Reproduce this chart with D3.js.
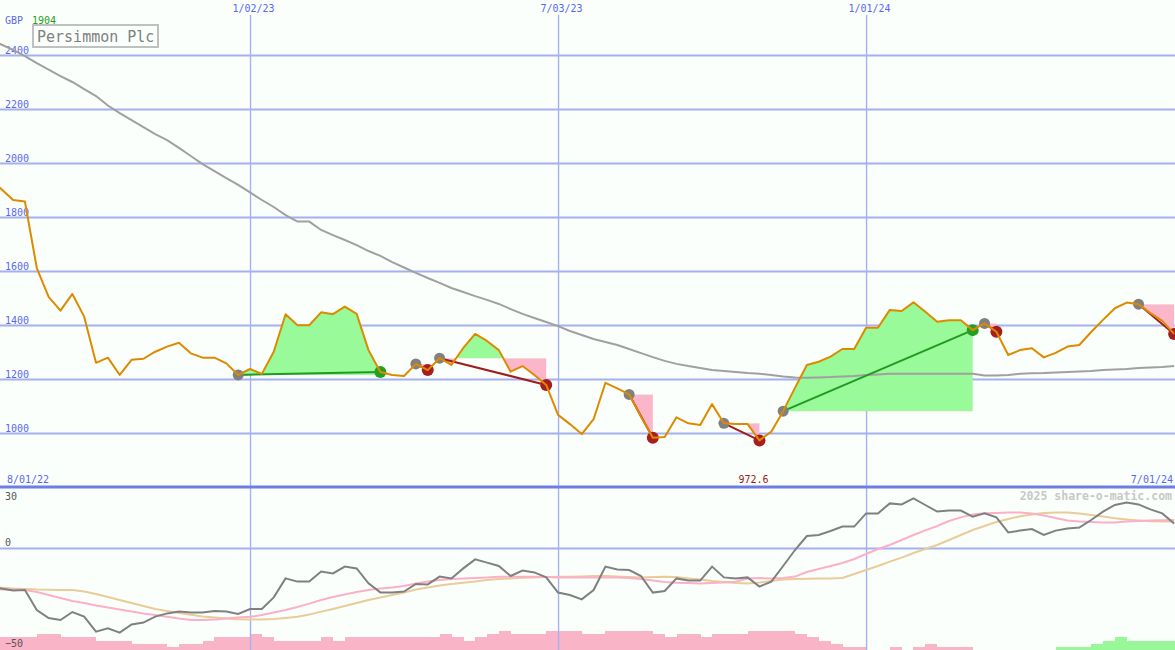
<!DOCTYPE html>
<html><head><meta charset="utf-8">
<script src="https://cdn.jsdelivr.net/npm/d3@7"></script>
<style>
html,body{margin:0;padding:0;background:#fbfffb;}
svg{display:block;}
text{font-family:"DejaVu Sans Mono","Liberation Mono",monospace;}
</style></head><body>
<svg id="c" width="1175" height="650"></svg>
<script>
// ---------- data ----------
const startDate = new Date(2022, 7, 1);   // first weekly close (8/01/22)
const endDate = new Date(2024, 6, 1);     // last weekly close (7/01/24)
const companyName = "Persimmon Plc";
const currencyLabel = "GBP";
const headlinePrice = "1904";
const priceTicks = [1000, 1200, 1400, 1600, 1800, 2000, 2200, 2400];
const oscTicks = [30, 0, -50];
const dateTickLabels = ["1/02/23", "7/03/23", "1/01/24"];
const dateTickDates = [new Date(2023, 0, 2), new Date(2023, 6, 3), new Date(2024, 0, 1)];

const priceValues = [1940, 1904, 1863, 1857, 1611, 1504, 1453, 1515, 1431, 1260,
  1279, 1215, 1271, 1275, 1301, 1320, 1334, 1295, 1279, 1279,
  1258, 1215, 1237, 1219, 1301, 1440, 1399, 1399, 1447, 1440,
  1468, 1441, 1307, 1226, 1215, 1211, 1256, 1233, 1277, 1252,
  1315, 1367, 1341, 1307, 1227, 1248, 1215, 1178, 1067, 1033,
  996, 1051, 1186, 1165, 1143, 1060, 982, 985, 1058, 1036,
  1030, 1107, 1036, 1033, 1033, 972.6, 1005, 1081, 1167, 1252,
  1264, 1283, 1311, 1311, 1390, 1390, 1456, 1452, 1484, 1449,
  1412, 1418, 1418, 1381, 1406, 1375, 1289, 1307, 1314, 1280,
  1297, 1320, 1326, 1374, 1419, 1462, 1483, 1477, 1444, 1415, 1367];

const movingAvgValues = [2459, 2439, 2419, 2396, 2370, 2346, 2322, 2300, 2274, 2248,
  2213, 2185, 2159, 2133, 2107, 2085, 2056, 2026, 1996, 1970,
  1944, 1919, 1891, 1863, 1837, 1807, 1783, 1783, 1752, 1733,
  1715, 1696, 1674, 1656, 1633, 1613, 1593, 1574, 1556, 1537,
  1522, 1507, 1493, 1478, 1459, 1441, 1426, 1411, 1396, 1378,
  1363, 1348, 1337, 1326, 1311, 1296, 1281, 1267, 1256, 1248,
  1241, 1233, 1230, 1226, 1222, 1219, 1215, 1209, 1206, 1205,
  1206, 1207, 1209, 1211, 1215, 1217, 1219, 1219, 1219, 1219,
  1219, 1219, 1219, 1219, 1213, 1213, 1215, 1219, 1221, 1222,
  1224, 1226, 1228, 1230, 1233, 1235, 1237, 1241, 1243, 1244, 1248];

const momentumValues = [-20, -20.2, -21.2, -21, -31, -35, -36, -32, -34.3, -41.8,
  -40.2, -42.3, -38.2, -37.3, -34.3, -32.7, -31.8, -32.3, -32.3, -31.5,
  -31.8, -33, -30.5, -30.5, -24.7, -15.2, -16.8, -16.8, -11.8, -12.7,
  -9.3, -10.2, -17.7, -22.2, -22.2, -21.8, -18, -18.2, -14.3, -15.2,
  -10.2, -5.7, -7.3, -9, -14, -11.3, -12.2, -14.7, -22.3, -23.5,
  -25.7, -21, -9.3, -10.7, -11, -14, -22.3, -21.5, -15.2, -16.3,
  -16.3, -9.3, -14.7, -15.2, -14.7, -19.3, -16.8, -9, -1, 6,
  6.5, 8.5, 10.7, 10.7, 17.3, 17.3, 22.3, 21.8, 24.8, 21.5,
  18.2, 18.7, 18.7, 15.7, 17.3, 15.3, 7.8, 8.7, 9.5, 6.5,
  8.7, 9.8, 10.2, 14, 18.2, 21.5, 22.7, 21.8, 19.3, 17.3, 12.3];

const fastAvgValues = [-20.5, -20.7, -20.8, -21, -22, -23.5, -25, -26.5, -27.5, -28.8,
  -29.8, -30.8, -31.8, -32.8, -33.5, -34.4, -35.3, -36, -36, -35.8,
  -35.3, -34.8, -34.4, -33.5, -32.3, -31, -29.5, -27.8, -26, -24.5,
  -23.3, -22, -21, -20.3, -19.8, -19, -17.8, -16.8, -16, -15.5,
  -15.3, -15, -14.7, -14.4, -14.4, -14.4, -14.4, -14.5, -14.7, -14.7,
  -14.7, -14.7, -14.7, -14.8, -15, -15.5, -16.3, -17, -17.4, -17.5,
  -17.7, -17.5, -17.3, -16.9, -15.3, -15, -15.3, -15, -14.3, -12,
  -10.5, -9, -7.5, -5.5, -3, -0.5, 1.5, 4, 6.5, 8.8,
  11, 13.5, 15.3, 16.8, 17.4, 17.5, 17.7, 17.7, 17.3, 16.3,
  15, 13.8, 13.3, 13, 12.8, 12.7, 13.3, 13.5, 13.8, 13.9, 14];

const slowAvgValues = [-19.8, -19.9, -20.3, -20.5, -20.8, -20.9, -21, -21, -21.8, -23,
  -24.5, -26, -27.5, -29, -30.5, -31.5, -32.5, -33.4, -34.2, -34.8,
  -35.3, -35.6, -35.7, -35.7, -35.5, -35, -34.4, -33.3, -31.8, -30.5,
  -29, -27.5, -26, -24.8, -23.5, -22.3, -20.8, -19.8, -18.8, -18,
  -17.4, -16.8, -16, -15.5, -15.3, -14.9, -14.7, -14.5, -14.4, -14.4,
  -14.2, -14, -14, -14.3, -14.5, -14.7, -14.5, -14.4, -14.5, -15.2,
  -15.8, -16.5, -17, -17.5, -17.7, -17.3, -16.5, -15.7, -15.5, -15.4,
  -15.3, -15.2, -15, -13, -11, -9, -6.8, -4.8, -2.5, -0.5,
  1.5, 4, 6.5, 9, 11, 13, 14.5, 15.9, 16.8, 17.5,
  17.7, 17.7, 17.3, 16.5, 15.8, 14.9, 14.3, 13.8, 13.4, 13.2, 13.2];

const histValues = [-4, -4, -4, -4, -5, -5, -4, -4, -4, -3,
  -3, -3, -2, -2, -2, -1, -2, -2, -3, -4,
  -4, -4, -5, -4, -3, -3, -3, -3, -4, -3,
  -4, -4, -4, -4, -4, -4, -4, -4, -5, -4,
  -3, -4, -5, -6, -5, -5, -5, -6, -6, -6,
  -5, -5, -6, -6, -6, -6, -5, -4, -5, -5,
  -4, -5, -5, -5, -6, -6, -6, -6, -5, -4,
  -3, -2, -1, -1, 0, 0, -1, 0, -1, -2,
  -1, -1, -1, 0, 0, 0, 0, 0, 0, 0,
  1, 1, 1, 2, 3, 4, 3, 3, 3, 3, 3];

const tradeEntryIdx = [21, 36, 38, 54, 62, 67, 84, 97];
const tradeExitIdx  = [33, 37, 47, 56, 65, 83, 85, 100];

// ---------- setup ----------
const W = 1175, H = 650;
const svg = d3.select("#c");
const weekDates = d3.timeMonday.range(startDate, d3.timeDay.offset(endDate, 1));
const rows = weekDates.map((d, i) => ({
  date: d, price: priceValues[i], ma: movingAvgValues[i], mom: momentumValues[i],
  fast: fastAvgValues[i], slow: slowAvgValues[i], hist: histValues[i], i
}));

const x = d3.scaleTime().domain([startDate, endDate]).range([-10.6, 1174.1]);
const y = d3.scaleLinear().domain([800, 2600]).range([487, 1]);
const yo = d3.scaleLinear().domain([-50, 30]).range([648, 488]);
const yh = d3.scaleLinear().domain([0, 6]).range([650, 631]);

svg.append("rect").attr("width", W).attr("height", H).attr("fill", "#fbfffb");

const defs = svg.append("defs");
defs.append("clipPath").attr("id", "mainClip").append("rect")
  .attr("x", 0).attr("y", 0).attr("width", W).attr("height", 486);
defs.append("clipPath").attr("id", "oscClip").append("rect")
  .attr("x", 0).attr("y", 489).attr("width", W).attr("height", 161);

// histogram bars (bottom)
const step = x(weekDates[1]) - x(weekDates[0]);
svg.append("g").selectAll("rect").data(rows.filter(r => r.hist !== 0)).join("rect")
  .attr("x", r => x(r.date))
  .attr("width", step + 0.3)
  .attr("y", r => yh(Math.abs(r.hist)))
  .attr("height", r => yh(0) - yh(Math.abs(r.hist)))
  .attr("fill", r => r.hist < 0 ? "#fab4c8" : "#98f898")
  .attr("shape-rendering", "crispEdges");

// horizontal price gridlines
const gy = svg.append("g").call(d3.axisRight(y).tickValues(priceTicks).tickSize(W).tickFormat(d3.format("d")));
gy.select(".domain").remove();
gy.selectAll("line").attr("stroke", "#a4b0f0").attr("stroke-width", 2);
gy.selectAll("text").attr("x", 5).attr("y", -2).attr("dy", 0).attr("text-anchor", "start")
  .attr("fill", "#5a68f0").attr("font-size", 10);

// oscillator zero line & labels
const go = svg.append("g").call(d3.axisRight(yo).tickValues(oscTicks).tickSize(W).tickFormat(d3.format("d")));
go.select(".domain").remove();
go.selectAll("line").attr("stroke", d => d === 0 ? "#a4b0f0" : "none").attr("stroke-width", 2);
go.selectAll("text").attr("x", 5).attr("dy", 0).attr("text-anchor", "start")
  .attr("fill", "#555").attr("font-size", 10)
  .attr("y", d => d === 30 ? 11 : (d === 0 ? -3 : -2));

// vertical date gridlines
const gx = svg.append("g").attr("transform", "translate(0,15)")
  .call(d3.axisBottom(x).tickValues(dateTickDates).tickSize(H - 15)
    .tickFormat((d, i) => dateTickLabels[i]));
gx.select(".domain").remove();
gx.selectAll("line").attr("stroke", "#a4b0f0").attr("stroke-width", 1.4);
gx.selectAll("text").attr("y", -3).attr("dy", 0).attr("dx", 3)
  .attr("fill", "#5a68f0").attr("font-size", 10);

// separator axis line
svg.append("line").attr("x1", 0).attr("x2", W).attr("y1", y(800)).attr("y2", y(800))
  .attr("stroke", "#6c7ce8").attr("stroke-width", 3);

// ---------- main panel ----------
const main = svg.append("g").attr("clip-path", "url(#mainClip)");

// trade fills
tradeEntryIdx.forEach((e, t) => {
  const xi = tradeExitIdx[t];
  const seg = rows.slice(e, xi + 1);
  const ey = y(priceValues[e]);
  const area = d3.area().x(r => x(r.date)).y0(ey).y1(r => y(r.price));
  const gid = "tg" + t, pid = "tp" + t;
  defs.append("clipPath").attr("id", gid).append("rect").attr("x", 0).attr("y", 0).attr("width", W).attr("height", ey);
  defs.append("clipPath").attr("id", pid).append("rect").attr("x", 0).attr("y", ey).attr("width", W).attr("height", H - ey);
  main.append("path").datum(seg).attr("d", area).attr("fill", "#98fa98").attr("clip-path", `url(#${gid})`);
  main.append("path").datum(seg).attr("d", area).attr("fill", "#fbb6ca").attr("clip-path", `url(#${pid})`);
});

// long moving average
main.append("path").datum(rows).attr("fill", "none").attr("stroke", "#a0a0a0").attr("stroke-width", 2)
  .attr("d", d3.line().x(r => x(r.date)).y(r => y(r.ma)));

// trade lines
tradeEntryIdx.forEach((e, t) => {
  const xi = tradeExitIdx[t];
  const win = priceValues[xi] > priceValues[e];
  main.append("line")
    .attr("x1", x(weekDates[e])).attr("y1", y(priceValues[e]))
    .attr("x2", x(weekDates[xi])).attr("y2", y(priceValues[xi]))
    .attr("stroke", win ? "#229a22" : "#a21c1c").attr("stroke-width", 2);
});

// markers
tradeEntryIdx.forEach((e, t) => {
  const xi = tradeExitIdx[t];
  const win = priceValues[xi] > priceValues[e];
  main.append("circle").attr("cx", x(weekDates[e])).attr("cy", y(priceValues[e])).attr("r", 5.5).attr("fill", "#808080");
  main.append("circle").attr("cx", x(weekDates[xi])).attr("cy", y(priceValues[xi])).attr("r", 6).attr("fill", win ? "#22a022" : "#a81e1e");
});

// price line
main.append("path").datum(rows).attr("fill", "none").attr("stroke", "#dd8a00").attr("stroke-width", 2)
  .attr("stroke-linejoin", "round")
  .attr("d", d3.line().x(r => x(r.date)).y(r => y(r.price)));

// ---------- oscillator panel ----------
const osc = svg.append("g").attr("clip-path", "url(#oscClip)");
const oscLine = key => d3.line().x(r => x(r.date)).y(r => yo(r[key]));
osc.append("path").datum(rows).attr("fill", "none").attr("stroke", "#e8cc9a").attr("stroke-width", 2).attr("d", oscLine("slow"));
osc.append("path").datum(rows).attr("fill", "none").attr("stroke", "#fcb0c8").attr("stroke-width", 2).attr("d", oscLine("fast"));
osc.append("path").datum(rows).attr("fill", "none").attr("stroke", "#808080").attr("stroke-width", 2).attr("d", oscLine("mom"));

// ---------- labels ----------
svg.append("text").attr("x", 5).attr("y", 24).attr("font-size", 10).attr("fill", "#5a68f0").text(currencyLabel);
svg.append("text").attr("x", 32).attr("y", 24).attr("font-size", 10).attr("fill", "#22a022").text(headlinePrice);
svg.append("rect").attr("x", 33).attr("y", 25).attr("width", 125).attr("height", 22)
  .attr("fill", "#fbfffb").attr("stroke", "#c0c0c0").attr("stroke-width", 2);
svg.append("text").attr("x", 37).attr("y", 42).attr("font-size", 15).attr("fill", "#808080").text(companyName);

const fmtDate = d3.timeFormat("%-m/%d/%y");
svg.append("text").attr("x", 7).attr("y", 483).attr("font-size", 10).attr("fill", "#5a68f0").text(fmtDate(startDate));
svg.append("text").attr("x", 1173).attr("y", 483).attr("font-size", 10).attr("text-anchor", "end").attr("fill", "#5a68f0").text(fmtDate(endDate));
const minIdx = d3.minIndex(priceValues);
svg.append("text").attr("x", x(weekDates[minIdx]) - 6).attr("y", 483).attr("font-size", 10)
  .attr("text-anchor", "middle").attr("fill", "#a01818").text(priceValues[minIdx]);
svg.append("text").attr("x", 1172).attr("y", 500).attr("font-size", 11.5).attr("font-weight", "bold")
  .attr("text-anchor", "end").attr("fill", "#c8c8c8").text("2025 share-o-matic.com");
</script>
</body></html>
